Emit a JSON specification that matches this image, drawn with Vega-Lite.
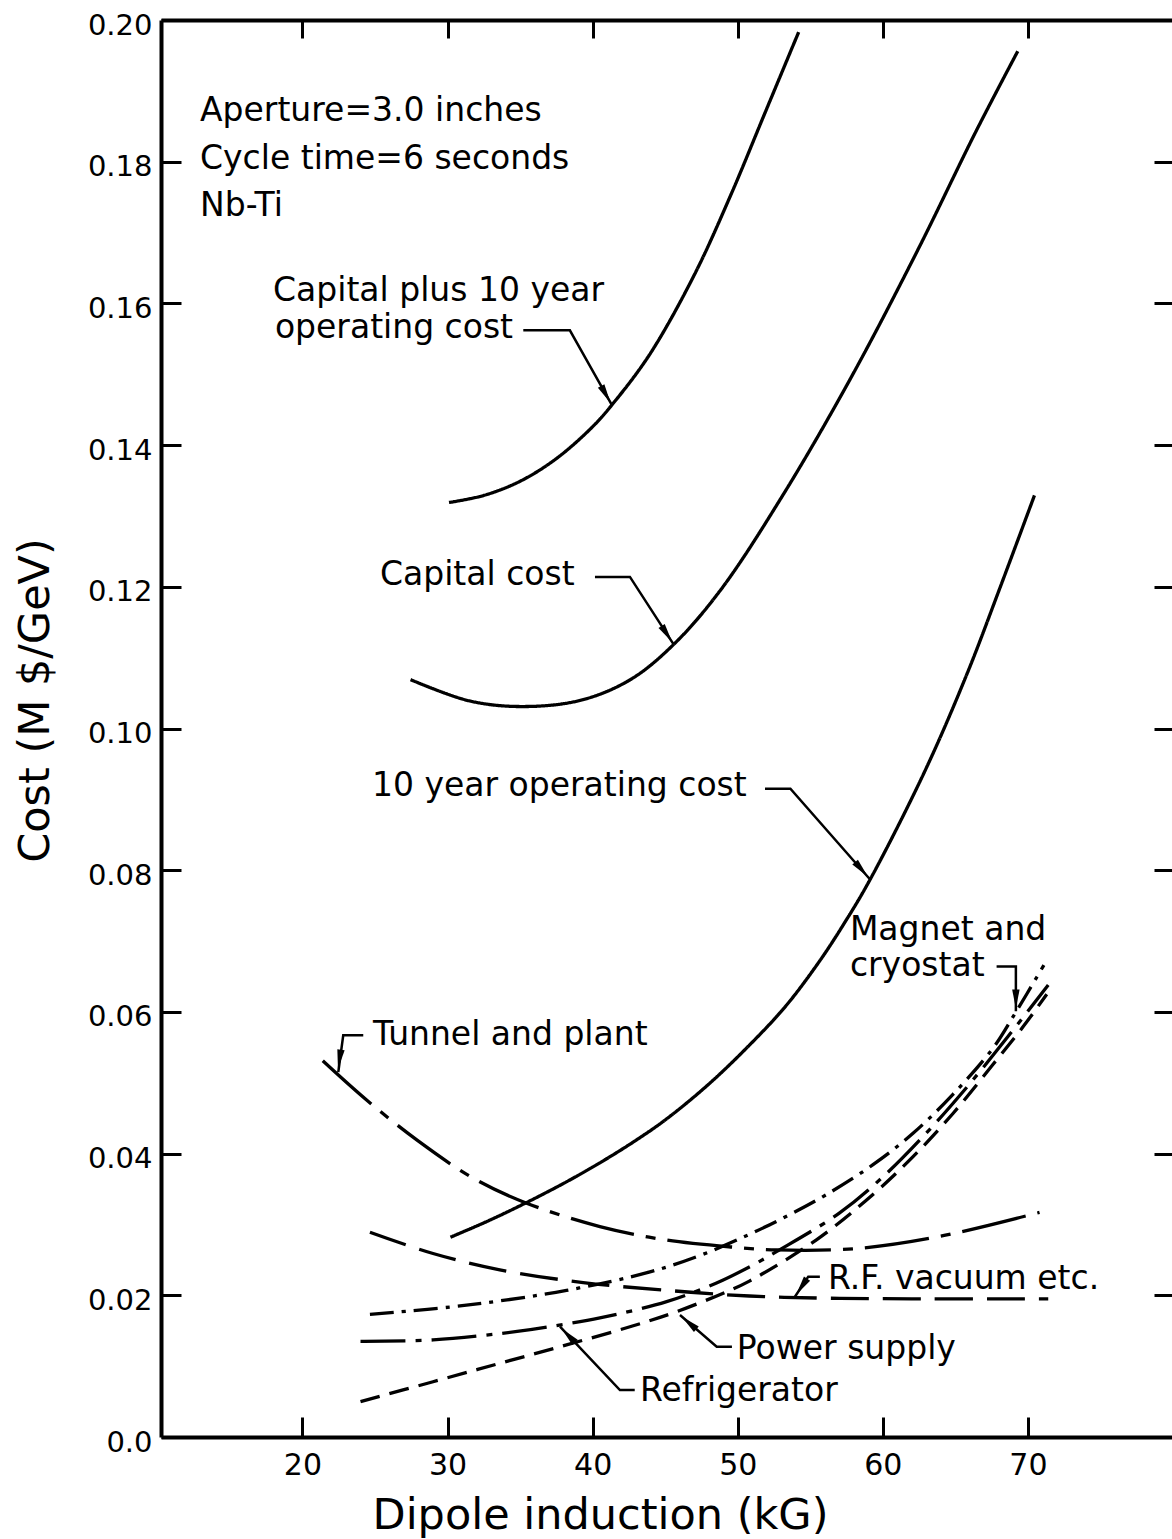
{
  "$schema": "https://vega.github.io/schema/vega-lite/v6.json",
  "width": 1011,
  "height": 1417,
  "autosize": {"type": "none"},
  "padding": {"left": 161, "top": 20, "right": 0, "bottom": 102},
  "background": "white",
  "view": {"stroke": null},
  "config": {"font": "DejaVu Sans"},
  "datasets": {
    "curves": [
      {"series": "Capital plus 10 year operating cost", "x": 30.1, "y": 0.1319},
      {"series": "Capital plus 10 year operating cost", "x": 32.5, "y": 0.1329},
      {"series": "Capital plus 10 year operating cost", "x": 35.0, "y": 0.1349},
      {"series": "Capital plus 10 year operating cost", "x": 37.5, "y": 0.1381},
      {"series": "Capital plus 10 year operating cost", "x": 40.0, "y": 0.1426},
      {"series": "Capital plus 10 year operating cost", "x": 41.3, "y": 0.1456},
      {"series": "Capital plus 10 year operating cost", "x": 43.9, "y": 0.1527},
      {"series": "Capital plus 10 year operating cost", "x": 47.0, "y": 0.1640},
      {"series": "Capital plus 10 year operating cost", "x": 49.5, "y": 0.1752},
      {"series": "Capital plus 10 year operating cost", "x": 51.9, "y": 0.1870},
      {"series": "Capital plus 10 year operating cost", "x": 54.2, "y": 0.1983},
      {"series": "Capital cost", "x": 27.45, "y": 0.1069},
      {"series": "Capital cost", "x": 31.5, "y": 0.1039},
      {"series": "Capital cost", "x": 35.2, "y": 0.1031},
      {"series": "Capital cost", "x": 39.2, "y": 0.1040},
      {"series": "Capital cost", "x": 42.6, "y": 0.1069},
      {"series": "Capital cost", "x": 45.6, "y": 0.1119},
      {"series": "Capital cost", "x": 48.8, "y": 0.1195},
      {"series": "Capital cost", "x": 53.1, "y": 0.1329},
      {"series": "Capital cost", "x": 57.8, "y": 0.1495},
      {"series": "Capital cost", "x": 62.4, "y": 0.1675},
      {"series": "Capital cost", "x": 66.4, "y": 0.1842},
      {"series": "Capital cost", "x": 69.3, "y": 0.1956},
      {"series": "10 year operating cost", "x": 30.2, "y": 0.0282},
      {"series": "10 year operating cost", "x": 32.8, "y": 0.0305},
      {"series": "10 year operating cost", "x": 35.45, "y": 0.0331},
      {"series": "10 year operating cost", "x": 38.0, "y": 0.0358},
      {"series": "10 year operating cost", "x": 40.5, "y": 0.0387},
      {"series": "10 year operating cost", "x": 43.0, "y": 0.0419},
      {"series": "10 year operating cost", "x": 45.1, "y": 0.0449},
      {"series": "10 year operating cost", "x": 48.0, "y": 0.0498},
      {"series": "10 year operating cost", "x": 50.8, "y": 0.0553},
      {"series": "10 year operating cost", "x": 53.3, "y": 0.0608},
      {"series": "10 year operating cost", "x": 55.65, "y": 0.0672},
      {"series": "10 year operating cost", "x": 57.4, "y": 0.0727},
      {"series": "10 year operating cost", "x": 59.1, "y": 0.0786},
      {"series": "10 year operating cost", "x": 62.9, "y": 0.0940},
      {"series": "10 year operating cost", "x": 65.8, "y": 0.1077},
      {"series": "10 year operating cost", "x": 68.1, "y": 0.1200},
      {"series": "10 year operating cost", "x": 70.45, "y": 0.1329},
      {"series": "Tunnel and plant", "x": 21.4, "y": 0.0531},
      {"series": "Tunnel and plant", "x": 24.4, "y": 0.0476},
      {"series": "Tunnel and plant", "x": 27.9, "y": 0.0419},
      {"series": "Tunnel and plant", "x": 31.8, "y": 0.0365},
      {"series": "Tunnel and plant", "x": 35.45, "y": 0.0330},
      {"series": "Tunnel and plant", "x": 40.5, "y": 0.0297},
      {"series": "Tunnel and plant", "x": 45.1, "y": 0.0278},
      {"series": "Tunnel and plant", "x": 49.7, "y": 0.0268},
      {"series": "Tunnel and plant", "x": 52.7, "y": 0.0264},
      {"series": "Tunnel and plant", "x": 58.2, "y": 0.0266},
      {"series": "Tunnel and plant", "x": 63.9, "y": 0.0283},
      {"series": "Tunnel and plant", "x": 70.8, "y": 0.0317},
      {"series": "R.F. vacuum etc.", "x": 24.65, "y": 0.0289},
      {"series": "R.F. vacuum etc.", "x": 29.0, "y": 0.0259},
      {"series": "R.F. vacuum etc.", "x": 33.6, "y": 0.0236},
      {"series": "R.F. vacuum etc.", "x": 39.35, "y": 0.0218},
      {"series": "R.F. vacuum etc.", "x": 45.1, "y": 0.0207},
      {"series": "R.F. vacuum etc.", "x": 50.8, "y": 0.0199},
      {"series": "R.F. vacuum etc.", "x": 56.0, "y": 0.0196},
      {"series": "R.F. vacuum etc.", "x": 62.0, "y": 0.0195},
      {"series": "R.F. vacuum etc.", "x": 71.4, "y": 0.0195},
      {"series": "Magnet and cryostat", "x": 24.65, "y": 0.0173},
      {"series": "Magnet and cryostat", "x": 31.3, "y": 0.0186},
      {"series": "Magnet and cryostat", "x": 38.2, "y": 0.0207},
      {"series": "Magnet and cryostat", "x": 43.95, "y": 0.0233},
      {"series": "Magnet and cryostat", "x": 47.5, "y": 0.0257},
      {"series": "Magnet and cryostat", "x": 50.8, "y": 0.0286},
      {"series": "Magnet and cryostat", "x": 53.5, "y": 0.0313},
      {"series": "Magnet and cryostat", "x": 56.1, "y": 0.0342},
      {"series": "Magnet and cryostat", "x": 59.3, "y": 0.0384},
      {"series": "Magnet and cryostat", "x": 62.1, "y": 0.0429},
      {"series": "Magnet and cryostat", "x": 64.85, "y": 0.0484},
      {"series": "Magnet and cryostat", "x": 67.6, "y": 0.0549},
      {"series": "Magnet and cryostat", "x": 69.0, "y": 0.0594},
      {"series": "Magnet and cryostat", "x": 71.1, "y": 0.0666},
      {"series": "Refrigerator", "x": 24.0, "y": 0.0135},
      {"series": "Refrigerator", "x": 29.0, "y": 0.0137},
      {"series": "Refrigerator", "x": 34.8, "y": 0.0149},
      {"series": "Refrigerator", "x": 37.7, "y": 0.0158},
      {"series": "Refrigerator", "x": 40.5, "y": 0.0168},
      {"series": "Refrigerator", "x": 45.1, "y": 0.0191},
      {"series": "Refrigerator", "x": 48.5, "y": 0.0217},
      {"series": "Refrigerator", "x": 50.8, "y": 0.0240},
      {"series": "Refrigerator", "x": 52.7, "y": 0.0262},
      {"series": "Refrigerator", "x": 57.0, "y": 0.0316},
      {"series": "Refrigerator", "x": 60.0, "y": 0.0367},
      {"series": "Refrigerator", "x": 63.0, "y": 0.0429},
      {"series": "Refrigerator", "x": 65.8, "y": 0.0494},
      {"series": "Refrigerator", "x": 68.5, "y": 0.0562},
      {"series": "Refrigerator", "x": 71.4, "y": 0.0638},
      {"series": "Power supply", "x": 24.0, "y": 0.0050},
      {"series": "Power supply", "x": 29.0, "y": 0.0078},
      {"series": "Power supply", "x": 33.6, "y": 0.0104},
      {"series": "Power supply", "x": 38.2, "y": 0.0130},
      {"series": "Power supply", "x": 42.8, "y": 0.0157},
      {"series": "Power supply", "x": 45.8, "y": 0.0177},
      {"series": "Power supply", "x": 49.0, "y": 0.0203},
      {"series": "Power supply", "x": 50.8, "y": 0.0220},
      {"series": "Power supply", "x": 55.4, "y": 0.0278},
      {"series": "Power supply", "x": 59.3, "y": 0.0342},
      {"series": "Power supply", "x": 62.1, "y": 0.0396},
      {"series": "Power supply", "x": 64.85, "y": 0.0457},
      {"series": "Power supply", "x": 67.6, "y": 0.0526},
      {"series": "Power supply", "x": 69.7, "y": 0.0580},
      {"series": "Power supply", "x": 71.3, "y": 0.0625}
    ],
    "labels": [
      {"text": "Aperture=3.0 inches", "x": 12.94, "y": 0.18716},
      {"text": "Cycle time=6 seconds", "x": 12.94, "y": 0.18038},
      {"text": "Nb-Ti", "x": 12.94, "y": 0.17375},
      {"text": "Capital plus 10 year", "x": 17.97, "y": 0.16175},
      {"text": "operating cost", "x": 18.1, "y": 0.15653},
      {"text": "Capital cost", "x": 25.34, "y": 0.12167},
      {"text": "10 year operating cost", "x": 24.79, "y": 0.09188},
      {"text": "Magnet and", "x": 57.73, "y": 0.07156},
      {"text": "cryostat", "x": 57.73, "y": 0.06648},
      {"text": "Tunnel and plant", "x": 24.86, "y": 0.05674},
      {"text": "R.F. vacuum etc.", "x": 56.22, "y": 0.0223},
      {"text": "Power supply", "x": 49.94, "y": 0.01242},
      {"text": "Refrigerator", "x": 43.26, "y": 0.00649}
    ],
    "leaders": [
      {"id": "capplus", "ord": 1, "x": 35.22, "y": 0.1562},
      {"id": "capplus", "ord": 2, "x": 38.43, "y": 0.1562},
      {"id": "capplus", "ord": 3, "x": 41.31, "y": 0.1457},
      {"id": "capcost", "ord": 1, "x": 40.16, "y": 0.1214},
      {"id": "capcost", "ord": 2, "x": 42.57, "y": 0.1214},
      {"id": "capcost", "ord": 3, "x": 45.57, "y": 0.1119},
      {"id": "tenyr", "ord": 1, "x": 51.88, "y": 0.0915},
      {"id": "tenyr", "ord": 2, "x": 53.63, "y": 0.0915},
      {"id": "tenyr", "ord": 3, "x": 59.08, "y": 0.0788},
      {"id": "magnet", "ord": 1, "x": 67.84, "y": 0.0664},
      {"id": "magnet", "ord": 2, "x": 69.17, "y": 0.0664},
      {"id": "magnet", "ord": 3, "x": 69.17, "y": 0.0601},
      {"id": "tunnel", "ord": 1, "x": 24.19, "y": 0.0567},
      {"id": "tunnel", "ord": 2, "x": 22.81, "y": 0.0567},
      {"id": "tunnel", "ord": 3, "x": 22.47, "y": 0.0515},
      {"id": "rf", "ord": 1, "x": 55.66, "y": 0.02263},
      {"id": "rf", "ord": 2, "x": 54.86, "y": 0.02263},
      {"id": "rf", "ord": 3, "x": 53.94, "y": 0.0198},
      {"id": "power", "ord": 1, "x": 49.6, "y": 0.01275},
      {"id": "power", "ord": 2, "x": 48.55, "y": 0.01275},
      {"id": "power", "ord": 3, "x": 46.02, "y": 0.01722},
      {"id": "refrig", "ord": 1, "x": 42.9, "y": 0.00663},
      {"id": "refrig", "ord": 2, "x": 41.88, "y": 0.00663},
      {"id": "refrig", "ord": 3, "x": 37.75, "y": 0.01557}
    ],
    "arrows": [
      {"id": "capplus", "x": 40.91, "y": 0.14714, "angle": 151},
      {"id": "capcost", "x": 45.12, "y": 0.11332, "angle": 147},
      {"id": "tenyr", "x": 58.53, "y": 0.08011, "angle": 139},
      {"id": "magnet", "x": 69.17, "y": 0.0618, "angle": 180},
      {"id": "tunnel", "x": 22.55, "y": 0.0533, "angle": 189},
      {"id": "rf", "x": 54.4, "y": 0.02121, "angle": 214},
      {"id": "power", "x": 46.64, "y": 0.01612, "angle": 311},
      {"id": "refrig", "x": 38.32, "y": 0.01434, "angle": 316}
    ]
  },
  "layer": [
    {
      "data": {"name": "curves"},
      "mark": {"type": "line", "interpolate": "catmull-rom", "color": "black", "strokeWidth": 3.3, "strokeCap": "butt"},
      "encoding": {
        "x": {
          "field": "x", "type": "quantitative",
          "scale": {"domain": [10.25, 79.93], "nice": false, "zero": false},
          "axis": {
            "orient": "bottom",
            "values": [20, 30, 40, 50, 60, 70],
            "title": "Dipole induction (kG)",
            "titleFont": "DejaVu Sans", "titleFontSize": 43, "titleFontWeight": "normal", "titleColor": "black",
            "titleX": 439, "titleY": 91, "titleAlign": "center", "titleBaseline": "alphabetic", "titleAnchor": null,
            "labelFont": "DejaVu Sans", "labelFontSize": 30, "labelColor": "black", "labelPadding": 33,
            "tickSize": -20, "tickWidth": 3, "tickColor": "black",
            "domainWidth": 4, "domainColor": "black", "grid": false
          }
        },
        "y": {
          "field": "y", "type": "quantitative",
          "scale": {"domain": [0, 0.2], "nice": false},
          "axis": {
            "orient": "left",
            "values": [0, 0.02, 0.04, 0.06, 0.08, 0.1, 0.12, 0.14, 0.16, 0.18, 0.2],
            "labelExpr": "datum.value === 0 ? '0.0' : format(datum.value, '.2f')",
            "title": "Cost (M $/GeV)",
            "titleFont": "DejaVu Sans", "titleFontSize": 43, "titleFontWeight": "normal", "titleColor": "black",
            "titleX": -113, "titleY": 680, "titleAngle": -90, "titleAlign": "center", "titleBaseline": "alphabetic", "titleAnchor": null,
            "labelFont": "DejaVu Sans", "labelFontSize": 29, "labelColor": "black", "labelPadding": 29, "labelOffset": 5,
            "tickSize": -20, "tickWidth": 3, "tickColor": "black",
            "domainWidth": 4, "domainColor": "black", "grid": false
          }
        },
        "strokeDash": {
          "field": "series", "type": "nominal",
          "scale": {
            "domain": ["Capital plus 10 year operating cost", "Capital cost", "10 year operating cost", "Tunnel and plant", "R.F. vacuum etc.", "Magnet and cryostat", "Refrigerator", "Power supply"],
            "range": [[1, 0], [1, 0], [1, 0], [65, 12, 10, 12], [38, 14], [24, 8, 4, 8], [45, 10, 6, 10], [20, 10]]
          },
          "legend": null
        }
      }
    },
    {
      "data": {"name": "labels"},
      "mark": {"type": "text", "align": "left", "baseline": "middle", "font": "DejaVu Sans", "fontSize": 33, "color": "black"},
      "encoding": {
        "x": {
          "field": "x", "type": "quantitative",
          "scale": {"domain": [10.25, 79.93], "nice": false, "zero": false},
          "axis": {
            "orient": "top", "values": [20, 30, 40, 50, 60, 70], "labels": false, "title": null,
            "tickSize": -18, "tickWidth": 3, "tickColor": "black",
            "domainWidth": 4, "domainColor": "black", "grid": false
          }
        },
        "y": {
          "field": "y", "type": "quantitative",
          "scale": {"domain": [0, 0.2], "nice": false},
          "axis": {
            "orient": "right", "values": [0.02, 0.04, 0.06, 0.08, 0.1, 0.12, 0.14, 0.16, 0.18], "labels": false, "title": null,
            "tickSize": -18, "tickWidth": 3, "tickColor": "black",
            "domain": false, "grid": false
          }
        },
        "text": {"field": "text"}
      }
    },
    {
      "data": {"name": "leaders"},
      "mark": {"type": "line", "color": "black", "strokeWidth": 2.5},
      "encoding": {
        "x": {"field": "x", "type": "quantitative", "scale": {"domain": [10.25, 79.93], "nice": false, "zero": false}, "axis": null},
        "y": {"field": "y", "type": "quantitative", "scale": {"domain": [0, 0.2], "nice": false}, "axis": null},
        "detail": {"field": "id"},
        "order": {"field": "ord"}
      }
    },
    {
      "data": {"name": "arrows"},
      "mark": {"type": "point", "filled": true, "shape": "M0,-1L0.38,1L-0.38,1Z", "size": 380, "color": "black", "opacity": 1, "strokeWidth": 0},
      "encoding": {
        "x": {"field": "x", "type": "quantitative", "scale": {"domain": [10.25, 79.93], "nice": false, "zero": false}, "axis": null},
        "y": {"field": "y", "type": "quantitative", "scale": {"domain": [0, 0.2], "nice": false}, "axis": null},
        "angle": {"field": "angle", "type": "quantitative", "scale": null}
      }
    }
  ],
  "resolve": {"axis": {"x": "independent", "y": "independent"}}
}
